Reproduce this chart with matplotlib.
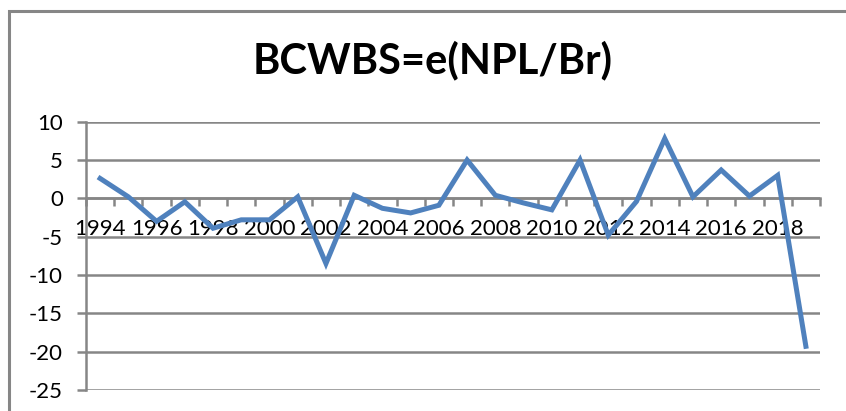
import numpy as np
import matplotlib
matplotlib.use("Agg")
import matplotlib.pyplot as plt
from matplotlib.patches import Rectangle

years = list(range(1994, 2020))
values = [2.6, 0.2, -3.0, -0.45, -3.9, -2.8, -2.8, 0.2, -8.5, 0.4, -1.3,
          -1.9, -0.9, 5.0, 0.4, -0.6, -1.5, 5.0, -4.8, -0.4, 7.8, 0.2,
          3.7, 0.3, 3.0, -19.3]
yticks = [10, 5, 0, -5, -10, -15, -20, -25]
title = "BCWBS=e(NPL/Br)"

W, H = 846, 411
grey = "#868686"
blue = "#4F81BD"

plt.rcParams['font.family'] = ["Lato", "DejaVu Sans"]

fig = plt.figure(figsize=(W / 100, H / 100), dpi=100)
ax = fig.add_axes([86 / W, 1 - 390 / H, (820 - 86) / W, (390 - 121.7) / H])

n = len(years)
xs = np.arange(n) + 0.5
ax.plot(xs, values, color=blue, lw=3.6, solid_joinstyle="miter", zorder=3,
        clip_on=False)

ax.set_xlim(0, n)
ax.set_ylim(-25, 10)
ax.set_yticks(yticks)
ax.set_yticklabels([str(v) for v in yticks])
ax.grid(axis="y", color=grey, lw=1.8)
ax.set_axisbelow(True)

# category boundaries as major ticks, labels every other year
ax.set_xticks(np.arange(n + 1))
ax.set_xticklabels([])
ax.set_xticks(xs[::2], minor=True)
ax.set_xticklabels([str(y) for y in years[::2]], minor=True)
ax.tick_params(axis="x", which="major", direction="out", length=6,
               width=1.8, color=grey)
ax.tick_params(axis="x", which="minor", length=0, pad=15, labelsize=16)
ax.tick_params(axis="y", direction="out", length=6.5, width=1.8,
               color=grey, pad=10, labelsize=16)

for s in ["top", "right"]:
    ax.spines[s].set_visible(False)
ax.spines["bottom"].set_position(("data", 0))
for s in ["left", "bottom"]:
    ax.spines[s].set_color(grey)
    ax.spines[s].set_linewidth(1.8)

fig.text(433 / W, 1 - 60 / H, title, ha="center", va="center",
         fontsize=30, fontweight="bold")

# outer chart border (right/bottom edges are cut off)
fig.patches.append(Rectangle((9 / W, -0.2), 1.2, 1.2 - 11.5 / H,
                             transform=fig.transFigure, fill=False,
                             edgecolor=grey, lw=2.2))

fig.savefig("out.png", dpi=100)
